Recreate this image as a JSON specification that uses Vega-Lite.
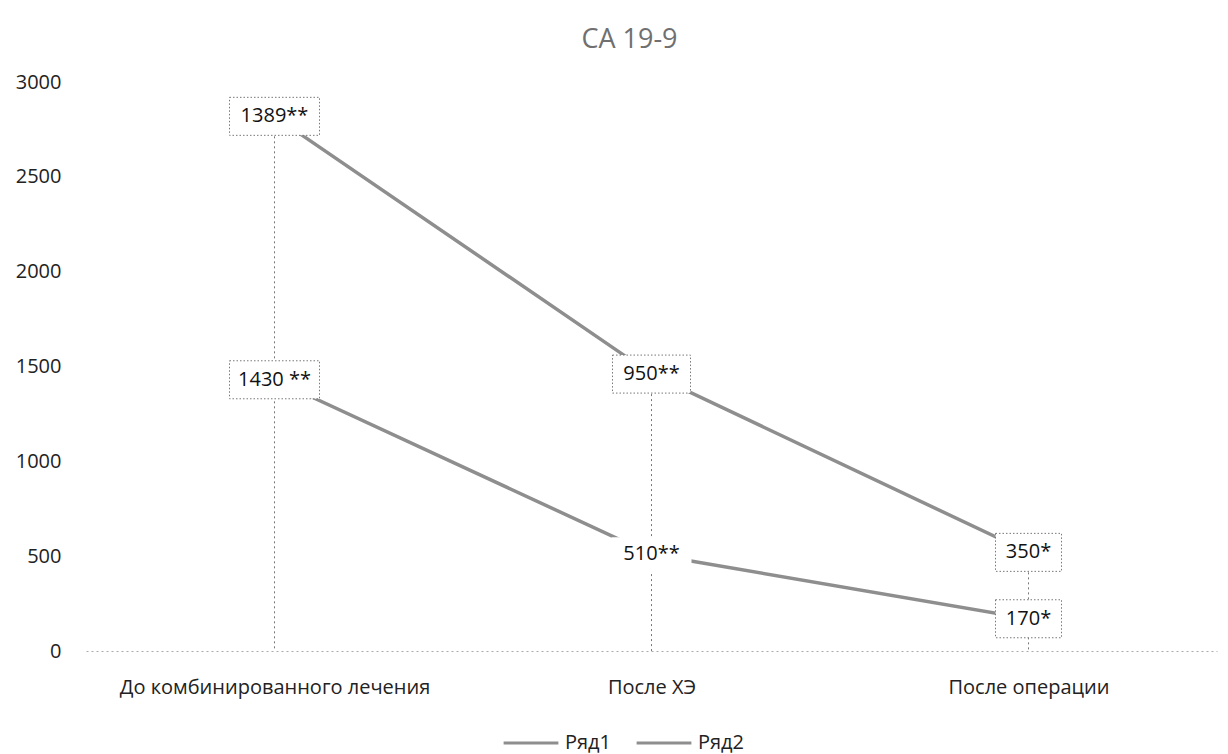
{
  "$schema": "https://vega.github.io/schema/vega-lite/v6.json",
  "width": 1131,
  "height": 569,
  "autosize": {"type": "none"},
  "padding": {"left": 86, "top": 82, "right": 11, "bottom": 103},
  "background": "white",
  "title": {
    "text": "CA 19-9",
    "font": "Open Sans",
    "fontSize": 27,
    "fontWeight": "normal",
    "color": "#707070",
    "anchor": "middle",
    "dx": -22,
    "offset": 18
  },
  "data": {
    "values": [
      {"stage": "До комбинированного лечения", "series": "Ряд1", "value": 1430, "label": "1430 **"},
      {"stage": "После ХЭ", "series": "Ряд1", "value": 510, "label": "510**"},
      {"stage": "После операции", "series": "Ряд1", "value": 170, "label": "170*"},
      {"stage": "До комбинированного лечения", "series": "Ряд2", "value": 1389, "label": "1389**"},
      {"stage": "После ХЭ", "series": "Ряд2", "value": 950, "label": "950**"},
      {"stage": "После операции", "series": "Ряд2", "value": 350, "label": "350*"}
    ]
  },
  "transform": [
    {"stack": "value", "groupby": ["stage"], "sort": [{"field": "series", "order": "ascending"}], "as": ["y0", "y1"]}
  ],
  "encoding": {
    "x": {
      "field": "stage",
      "type": "nominal",
      "sort": ["До комбинированного лечения", "После ХЭ", "После операции"],
      "scale": {"type": "point", "padding": 0.5},
      "axis": {
        "title": null,
        "labelAngle": 0,
        "labelFont": "Open Sans",
        "labelFontSize": 20,
        "labelLimit": 0,
        "labelColor": "#222",
        "labelPadding": 26,
        "ticks": false,
        "domainColor": "#aaa",
        "domainDash": [2, 3],
        "domainWidth": 1
      }
    }
  },
  "layer": [
    {
      "transform": [{"aggregate": [{"op": "max", "field": "y1", "as": "top"}], "groupby": ["stage"]}],
      "mark": {"type": "rule", "color": "#777", "strokeWidth": 1, "strokeDash": [2, 3]},
      "encoding": {
        "y": {"field": "top", "type": "quantitative"},
        "y2": {"datum": 0}
      }
    },
    {
      "mark": {"type": "line", "strokeWidth": 3.5},
      "encoding": {
        "y": {
          "field": "y1",
          "type": "quantitative",
          "scale": {"domain": [0, 3000]},
          "axis": {
            "title": null,
            "values": [0, 500, 1000, 1500, 2000, 2500, 3000],
            "format": "d",
            "grid": false,
            "ticks": false,
            "domain": false,
            "labelFont": "Open Sans",
            "labelFontSize": 20,
            "labelColor": "#222",
            "labelPadding": 25
          }
        },
        "color": {
          "field": "series",
          "type": "nominal",
          "scale": {"domain": ["Ряд1", "Ряд2"], "range": ["#8e8e8e", "#8e8e8e"]},
          "legend": {
            "title": null,
            "orient": "none",
            "direction": "horizontal",
            "legendX": 416,
            "legendY": 632,
            "symbolType": "stroke",
            "symbolSize": 3000,
            "symbolStrokeWidth": 3,
            "labelFont": "Open Sans",
            "labelFontSize": 20,
            "labelColor": "#222",
            "columnPadding": 18,
            "labelOffset": 5
          }
        }
      }
    },
    {
      "mark": {"type": "point", "filled": false, "fill": "white", "fillOpacity": 1, "size": 10000, "strokeWidth": 1, "strokeDash": [1.5, 2], "opacity": 1},
      "encoding": {
        "y": {"field": "y1", "type": "quantitative"},
        "shape": {
          "field": "label",
          "type": "nominal",
          "legend": null,
          "scale": {
            "domain": ["1389**", "1430 **", "950**", "510**", "350*", "170*"],
            "range": [
              "M-0.9,-0.38H0.9V0.38H-0.9Z",
              "M-0.9,-0.38H0.9V0.38H-0.9Z",
              "M-0.78,-0.38H0.78V0.38H-0.78Z",
              "M-0.8,-0.34H0.8V0.34H-0.8Z",
              "M-0.66,-0.38H0.66V0.38H-0.66Z",
              "M-0.66,-0.38H0.66V0.38H-0.66Z"
            ]
          }
        },
        "stroke": {
          "condition": {"test": "datum.label === '510**'", "value": "transparent"},
          "value": "#777"
        }
      }
    },
    {
      "mark": {"type": "text", "font": "Open Sans", "fontSize": 20, "color": "#111", "baseline": "middle", "align": "center"},
      "encoding": {
        "y": {"field": "y1", "type": "quantitative"},
        "text": {"field": "label"}
      }
    }
  ],
  "config": {
    "view": {"stroke": null}
  }
}
